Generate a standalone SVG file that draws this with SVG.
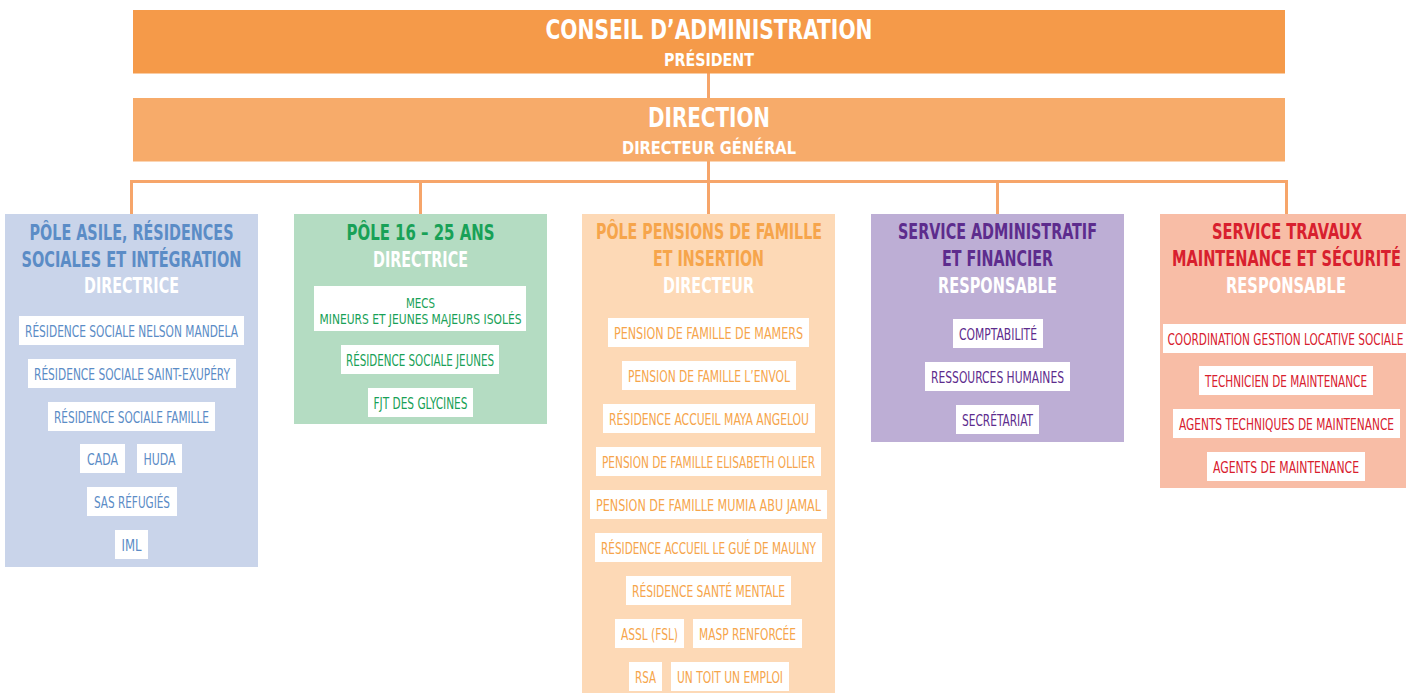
<svg xmlns="http://www.w3.org/2000/svg" width="1406" height="693" viewBox="0 0 1406 693">
<style>
text{font-family:"Liberation Sans Narrow","DejaVu Sans Condensed","Liberation Sans",sans-serif;text-anchor:middle;}
.h{font-weight:bold;font-size:21px;}
.t{font-weight:bold;}
.i{font-size:16px;}
.s{font-size:14.5px;}
.w{fill:#ffffff;}
.box rect.it{fill:#ffffff;}
.c1{fill:#5b8cc6;} .c2{fill:#18a157;} .c3{fill:#f6a54b;} .c4{fill:#5d2c8d;} .c5{fill:#d8202e;}
.con{stroke:#f6a56a;stroke-width:3;fill:none;}
</style>
<g id="connectors">
<line class="con" x1="708.5" y1="73" x2="708.5" y2="98"/>
<line class="con" x1="708.5" y1="161" x2="708.5" y2="214"/>
<polyline class="con" points="131.5,214 131.5,181.5 1286.5,181.5 1286.5,214"/>
<line class="con" x1="420.5" y1="181" x2="420.5" y2="214"/>
<line class="con" x1="997.5" y1="181" x2="997.5" y2="214"/>
</g>
<g id="conseil">
<rect x="133" y="10" width="1152" height="63.5" fill="#f59a49"/>
<text class="t w" x="709" y="39" font-size="27" textLength="327" lengthAdjust="spacingAndGlyphs">CONSEIL D’ADMINISTRATION</text>
<text class="t w" x="709" y="66" font-size="18.5" textLength="90" lengthAdjust="spacingAndGlyphs">PRÉSIDENT</text>
</g>
<g id="direction">
<rect x="133" y="98" width="1152" height="63.5" fill="#f7ab6a"/>
<text class="t w" x="709" y="127" font-size="27" textLength="122" lengthAdjust="spacingAndGlyphs">DIRECTION</text>
<text class="t w" x="709" y="154" font-size="18.5" textLength="174" lengthAdjust="spacingAndGlyphs">DIRECTEUR GÉNÉRAL</text>
</g>
<g id="pole-asile" class="box">
<rect x="5" y="214" width="253" height="353" fill="#c9d4ea"/>
<text class="h c1" x="131.5" y="240" textLength="204" lengthAdjust="spacingAndGlyphs">PÔLE ASILE, RÉSIDENCES</text>
<text class="h c1" x="131.5" y="267" textLength="220" lengthAdjust="spacingAndGlyphs">SOCIALES ET INTÉGRATION</text>
<text class="h w" x="131.5" y="293" textLength="95" lengthAdjust="spacingAndGlyphs">DIRECTRICE</text>
<rect class="it" x="19" y="316" width="225" height="29"/>
<text class="i c1" x="131.5" y="337" textLength="213" lengthAdjust="spacingAndGlyphs">RÉSIDENCE SOCIALE NELSON MANDELA</text>
<rect class="it" x="28" y="359" width="208" height="29"/>
<text class="i c1" x="132" y="380" textLength="196" lengthAdjust="spacingAndGlyphs">RÉSIDENCE SOCIALE SAINT-EXUPÉRY</text>
<rect class="it" x="48" y="402" width="167" height="29"/>
<text class="i c1" x="131.5" y="423" textLength="155" lengthAdjust="spacingAndGlyphs">RÉSIDENCE SOCIALE FAMILLE</text>
<rect class="it" x="80" y="444" width="45" height="29"/>
<text class="i c1" x="102.5" y="465" textLength="31" lengthAdjust="spacingAndGlyphs">CADA</text>
<rect class="it" x="137" y="444" width="45" height="29"/>
<text class="i c1" x="159.5" y="465" textLength="32" lengthAdjust="spacingAndGlyphs">HUDA</text>
<rect class="it" x="87" y="487" width="90" height="29"/>
<text class="i c1" x="132" y="508" textLength="76" lengthAdjust="spacingAndGlyphs">SAS RÉFUGIÉS</text>
<rect class="it" x="115" y="530" width="33" height="29"/>
<text class="i c1" x="131.5" y="551" textLength="20" lengthAdjust="spacingAndGlyphs">IML</text>
</g>
<g id="pole-16-25" class="box">
<rect x="294" y="214" width="253" height="210" fill="#b4dcc2"/>
<text class="h c2" x="420.5" y="240" textLength="148" lengthAdjust="spacingAndGlyphs">PÔLE 16 – 25 ANS</text>
<text class="h w" x="420.5" y="267" textLength="95" lengthAdjust="spacingAndGlyphs">DIRECTRICE</text>
<rect class="it" x="314" y="286" width="212" height="45"/>
<text class="s c2" x="420.5" y="307.5" textLength="29" lengthAdjust="spacingAndGlyphs">MECS</text>
<text class="s c2" x="420.5" y="324" textLength="202" lengthAdjust="spacingAndGlyphs">MINEURS ET JEUNES MAJEURS ISOLÉS</text>
<rect class="it" x="341" y="345" width="158" height="29"/>
<text class="i c2" x="420" y="366" textLength="148" lengthAdjust="spacingAndGlyphs">RÉSIDENCE SOCIALE JEUNES</text>
<rect class="it" x="368" y="388" width="105" height="29"/>
<text class="i c2" x="420.5" y="409" textLength="94" lengthAdjust="spacingAndGlyphs">FJT DES GLYCINES</text>
</g>
<g id="pole-pensions" class="box">
<rect x="582" y="214" width="253" height="479" fill="#fdd9b6"/>
<text class="h c3" x="709" y="239" textLength="226" lengthAdjust="spacingAndGlyphs">PÔLE PENSIONS DE FAMILLE</text>
<text class="h c3" x="708.5" y="266" textLength="111" lengthAdjust="spacingAndGlyphs">ET INSERTION</text>
<text class="h w" x="708.5" y="293" textLength="91" lengthAdjust="spacingAndGlyphs">DIRECTEUR</text>
<rect class="it" x="608" y="318" width="201" height="29"/>
<text class="i c3" x="708.5" y="339" textLength="189" lengthAdjust="spacingAndGlyphs">PENSION DE FAMILLE DE MAMERS</text>
<rect class="it" x="622" y="361" width="174" height="29"/>
<text class="i c3" x="709" y="382" textLength="162" lengthAdjust="spacingAndGlyphs">PENSION DE FAMILLE L’ENVOL</text>
<rect class="it" x="603" y="404" width="212" height="29"/>
<text class="i c3" x="709" y="425" textLength="200" lengthAdjust="spacingAndGlyphs">RÉSIDENCE ACCUEIL MAYA ANGELOU</text>
<rect class="it" x="596" y="447" width="225" height="29"/>
<text class="i c3" x="708.5" y="468" textLength="213" lengthAdjust="spacingAndGlyphs">PENSION DE FAMILLE ELISABETH OLLIER</text>
<rect class="it" x="590" y="490" width="237" height="29"/>
<text class="i c3" x="708.5" y="511" textLength="225" lengthAdjust="spacingAndGlyphs">PENSION DE FAMILLE MUMIA ABU JAMAL</text>
<rect class="it" x="595" y="533" width="227" height="29"/>
<text class="i c3" x="708.5" y="554" textLength="215" lengthAdjust="spacingAndGlyphs">RÉSIDENCE ACCUEIL LE GUÉ DE MAULNY</text>
<rect class="it" x="626" y="576" width="165" height="29"/>
<text class="i c3" x="708.5" y="597" textLength="153" lengthAdjust="spacingAndGlyphs">RÉSIDENCE SANTÉ MENTALE</text>
<rect class="it" x="615" y="619" width="69" height="29"/>
<text class="i c3" x="649.5" y="640" textLength="57" lengthAdjust="spacingAndGlyphs">ASSL (FSL)</text>
<rect class="it" x="693" y="619" width="109" height="29"/>
<text class="i c3" x="747.5" y="640" textLength="97" lengthAdjust="spacingAndGlyphs">MASP RENFORCÉE</text>
<rect class="it" x="629" y="662" width="33" height="29"/>
<text class="i c3" x="645.5" y="683" textLength="21" lengthAdjust="spacingAndGlyphs">RSA</text>
<rect class="it" x="671" y="662" width="118" height="29"/>
<text class="i c3" x="730" y="683" textLength="106" lengthAdjust="spacingAndGlyphs">UN TOIT UN EMPLOI</text>
</g>
<g id="service-admin" class="box">
<rect x="871" y="214" width="253" height="228" fill="#bdaed5"/>
<text class="h c4" x="997.5" y="239" textLength="199" lengthAdjust="spacingAndGlyphs">SERVICE ADMINISTRATIF</text>
<text class="h c4" x="997.5" y="266" textLength="111" lengthAdjust="spacingAndGlyphs">ET FINANCIER</text>
<text class="h w" x="997.5" y="293" textLength="119" lengthAdjust="spacingAndGlyphs">RESPONSABLE</text>
<rect class="it" x="953" y="319" width="90" height="29"/>
<text class="i c4" x="998" y="340" textLength="78" lengthAdjust="spacingAndGlyphs">COMPTABILITÉ</text>
<rect class="it" x="925" y="362" width="145" height="29"/>
<text class="i c4" x="997.5" y="383" textLength="133" lengthAdjust="spacingAndGlyphs">RESSOURCES HUMAINES</text>
<rect class="it" x="956" y="405" width="83" height="29"/>
<text class="i c4" x="997.5" y="426" textLength="71" lengthAdjust="spacingAndGlyphs">SECRÉTARIAT</text>
</g>
<g id="service-travaux" class="box">
<rect x="1160" y="214" width="246" height="274" fill="#f8bda6"/>
<text class="h c5" x="1287" y="239" textLength="150" lengthAdjust="spacingAndGlyphs">SERVICE TRAVAUX</text>
<text class="h c5" x="1286.5" y="266" textLength="229" lengthAdjust="spacingAndGlyphs">MAINTENANCE ET SÉCURITÉ</text>
<text class="h w" x="1286" y="293" textLength="120" lengthAdjust="spacingAndGlyphs">RESPONSABLE</text>
<rect class="it" x="1163" y="324" width="243" height="29"/>
<text class="i c5" x="1285.5" y="345" textLength="236" lengthAdjust="spacingAndGlyphs">COORDINATION GESTION LOCATIVE SOCIALE</text>
<rect class="it" x="1199" y="366" width="174" height="29"/>
<text class="i c5" x="1286" y="387" textLength="162" lengthAdjust="spacingAndGlyphs">TECHNICIEN DE MAINTENANCE</text>
<rect class="it" x="1173" y="409" width="227" height="29"/>
<text class="i c5" x="1286.5" y="430" textLength="215" lengthAdjust="spacingAndGlyphs">AGENTS TECHNIQUES DE MAINTENANCE</text>
<rect class="it" x="1207" y="452" width="158" height="29"/>
<text class="i c5" x="1286" y="473" textLength="146" lengthAdjust="spacingAndGlyphs">AGENTS DE MAINTENANCE</text>
</g>
</svg>
